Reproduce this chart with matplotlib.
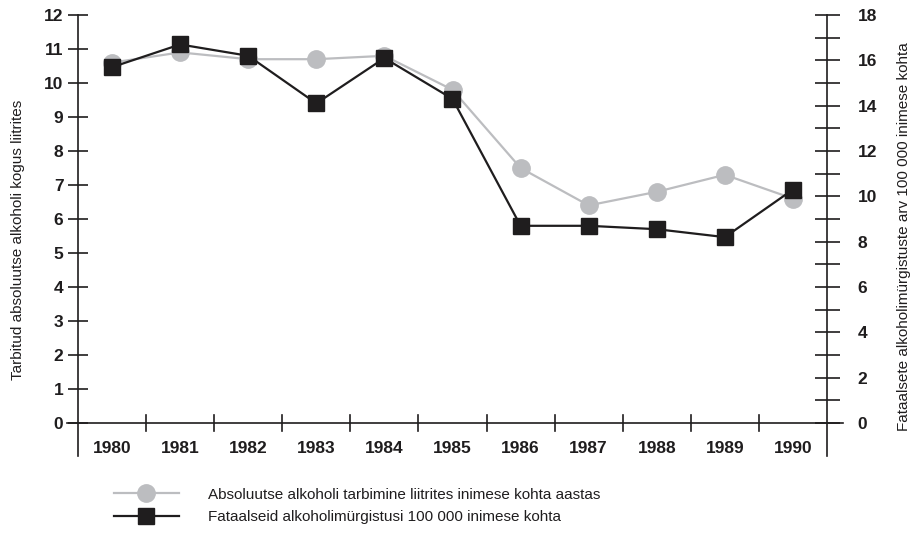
import matplotlib
matplotlib.use("Agg")
import matplotlib.pyplot as plt
from matplotlib import font_manager

names = {f.name for f in font_manager.fontManager.ttflist}
FONT = "Liberation Sans Narrow" if "Liberation Sans Narrow" in names else "Liberation Sans"
plt.rcParams["font.family"] = [FONT, "DejaVu Sans"]

years = ["1980", "1981", "1982", "1983", "1984", "1985", "1986", "1987", "1988", "1989", "1990"]
consumption = [10.6, 10.9, 10.7, 10.7, 10.8, 9.8, 7.5, 6.4, 6.8, 7.3, 6.6]
fatal = [15.7, 16.7, 16.2, 14.1, 16.1, 14.3, 8.7, 8.7, 8.55, 8.2, 10.3]

label_left = "Tarbitud absoluutse alkoholi kogus liitrites"
label_right = "Fataalsete alkoholimürgistuste arv 100 000 inimese kohta"
legend_cons = "Absoluutse alkoholi tarbimine liitrites inimese kohta aastas"
legend_fatal = "Fataalseid alkoholimürgistusi 100 000 inimese kohta"

GRAY = "#bcbdc0"
DARK = "#1f1d1e"

fig = plt.figure(figsize=(9.13, 5.34), dpi=100)
ax = fig.add_axes([78 / 913, (534 - 456) / 534, (827 - 78) / 913, (456 - 15) / 534])
ax2 = ax.twinx()

n = len(years)
x = list(range(n))
bottom = -33 / 34
ax.set_xlim(-0.5, n - 0.5)
ax.set_ylim(bottom, 12)
ax2.set_ylim(bottom * 1.5, 18)

l1, = ax.plot(x, consumption, color=GRAY, lw=1.6, marker="o", ms=12.5,
              markeredgecolor=GRAY, zorder=3)
l2, = ax2.plot(x, fatal, color=DARK, lw=1.6, marker="s", ms=11,
               markeredgecolor=DARK, zorder=4)

for a in (ax, ax2):
    a.spines["top"].set_visible(False)
    a.spines["bottom"].set_visible(False)
    a.patch.set_visible(False)
    a.set_xticks([])
ax.spines["right"].set_visible(False)
ax2.spines["left"].set_visible(False)
ax.spines["left"].set_linewidth(1.2)
ax2.spines["right"].set_linewidth(1.2)
ax.spines["left"].set_color(DARK)
ax2.spines["right"].set_color(DARK)

ax.set_yticks(range(0, 13))
ax.tick_params(axis="y", direction="inout", length=15, width=1.2, color=DARK,
               pad=3, labelsize=12.5)
ax2.set_yticks(range(0, 19, 2))
ax2.set_yticks(range(0, 19), minor=True)
ax2.tick_params(axis="y", which="both", direction="inout", length=18, width=1.2,
                color=DARK, pad=13, labelsize=12.5)
for lab in ax.get_yticklabels() + ax2.get_yticklabels():
    lab.set_fontweight("bold")
    lab.set_color(DARK)

# x axis line at zero, slightly extended past the spines
ax.plot([-0.5 - 11 / 68, n - 0.5 + 16 / 68], [0, 0], color=DARK, lw=1.2,
        clip_on=False, zorder=2)
for i in range(1, n):
    ax.plot([i - 0.5, i - 0.5], [-0.24, 0.24], color=DARK, lw=1.2, zorder=2)
for i, yr in enumerate(years):
    ax.text(i, -0.76, yr, ha="center", va="center", fontsize=12.5,
            fontweight="bold", color=DARK)

fig.text(18 / 913, (534 - 240) / 534, label_left, rotation=90,
         ha="center", va="center", fontsize=11, color=DARK)
fig.text(904 / 913, (534 - 237) / 534, label_right, rotation=90,
         ha="center", va="center", fontsize=11, color=DARK)

fig.legend([l1, l2], [legend_cons, legend_fatal], loc="upper left",
           bbox_to_anchor=(106 / 913, (534 - 480) / 534), frameon=False,
           fontsize=11, handlelength=4.3, handletextpad=1.9, labelspacing=0.55,
           borderpad=0, labelcolor=DARK)

fig.savefig("out.png", dpi=100)
